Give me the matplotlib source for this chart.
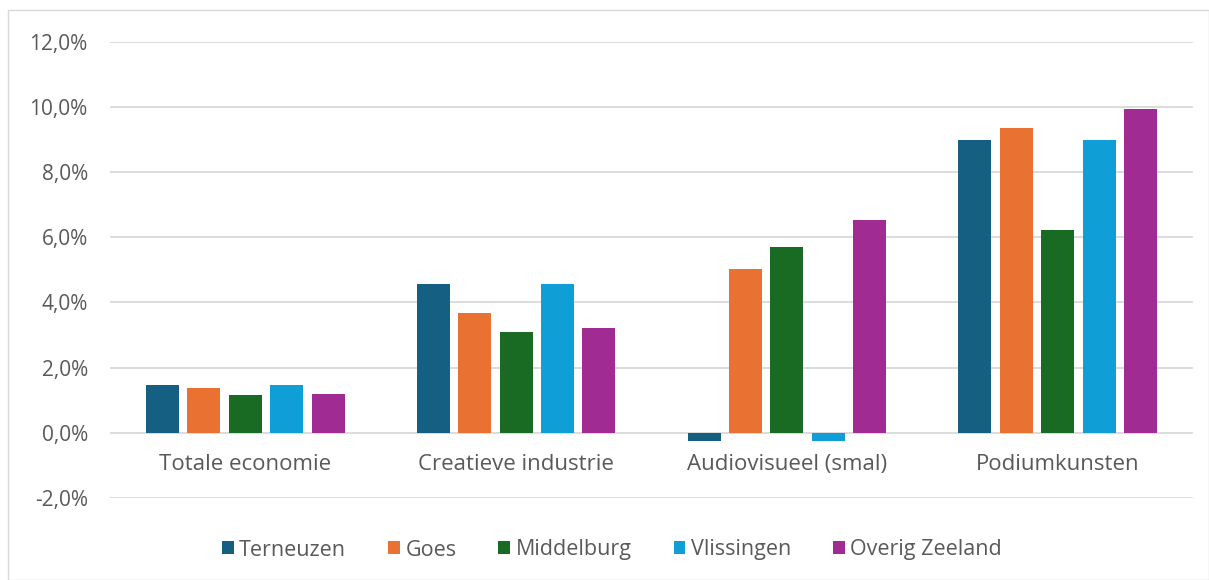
import matplotlib
matplotlib.use("Agg")
import matplotlib.pyplot as plt
import numpy as np
from matplotlib.patches import Rectangle
from matplotlib.ticker import FuncFormatter

categories = ["Totale economie", "Creatieve industrie", "Audiovisueel (smal)", "Podiumkunsten"]
series_names = ["Terneuzen", "Goes", "Middelburg", "Vlissingen", "Overig Zeeland"]
terneuzen = [1.46, 4.57, -0.24, 8.98]
goes = [1.39, 3.68, 5.04, 9.34]
middelburg = [1.15, 3.09, 5.69, 6.23]
vlissingen = [1.46, 4.57, -0.24, 8.98]
overig = [1.20, 3.22, 6.54, 9.92]
colors = ["#156082", "#E97132", "#196B24", "#0F9ED5", "#A02B93"]
yticks = [-2, 0, 2, 4, 6, 8, 10, 12]

plt.rcParams['font.family'] = ['Open Sans', 'DejaVu Sans']
txt = "#595959"

fig = plt.figure(figsize=(12.09, 5.8), dpi=100)
ax = fig.add_axes([110/1209, 1-498/580, (1193-110)/1209, (498-41.7)/580])

data = [terneuzen, goes, middelburg, vlissingen, overig]
x = np.arange(len(categories))
step = 0.153
width = 0.122
for i, (name, vals) in enumerate(zip(series_names, data)):
    ax.bar(x + (i - 2) * step, vals, width=width, color=colors[i], label=name, zorder=3)

ax.set_xlim(-0.5, len(categories) - 0.5)
ax.set_ylim(-2, 12)
ax.set_yticks(yticks)
ax.yaxis.set_major_formatter(FuncFormatter(lambda v, p: f"{v:.1f}%".replace(".", ",")))
ax.set_xticks([])
for s in ax.spines.values():
    s.set_visible(False)
ax.tick_params(axis='y', length=0, pad=16, labelsize=15, labelcolor=txt)
ax.grid(axis='y', color="#D9D9D9", linewidth=1.3, zorder=0)
ax.set_axisbelow(True)

for xi, c in zip(x, categories):
    ax.text(xi, -0.98, c, ha='center', va='center', fontsize=16, color=txt)

leg = fig.legend(loc='center', bbox_to_anchor=(612/1209, 1-550/580), ncol=5, frameon=False,
                 fontsize=15.5, handlelength=0.55, handleheight=0.55, handletextpad=0.25,
                 columnspacing=1.95, labelcolor=txt)

fig.patches.append(Rectangle((8/1209, 0), 1 - 8/1209 - 0.5/1209, 1 - 10/580, transform=fig.transFigure,
                             fill=False, edgecolor="#D9D9D9", linewidth=1))

fig.savefig("out.png", dpi=100, facecolor="white")
